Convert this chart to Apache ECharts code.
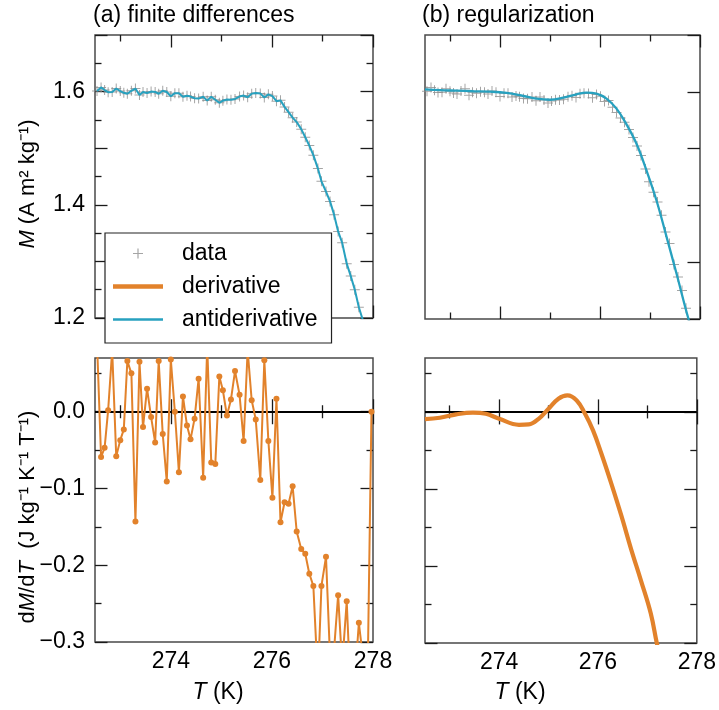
<!DOCTYPE html>
<html><head><meta charset="utf-8">
<script src="https://cdn.jsdelivr.net/npm/echarts@6/dist/echarts.min.js"></script>
<style>html,body{margin:0;padding:0;background:#fff}#c{width:719px;height:710px}</style>
</head><body><div id="c"></div>
<script>
// ---------- data ----------
const T = [272.54,272.62,272.69,272.76,272.84,272.92,273.00,273.07,273.14,273.22,273.30,273.38,273.45,273.53,273.61,
  273.69,273.76,273.84,273.92,274.00,274.08,274.16,274.24,274.32,274.39,274.47,274.55,274.64,274.72,274.80,274.88,274.96,
  275.03,275.11,275.19,275.27,275.36,275.44,275.52,275.60,275.68,275.77,275.85,275.93,276.01,276.09,276.17,276.25,276.33,
  276.41,276.49,276.58,276.66,276.74,276.82,276.91,276.98,277.07,277.15,277.23,277.31,277.39,277.48,277.56,277.64,277.72,
  277.80,277.89,277.97];
const M = [1.6010,1.6074,1.6027,1.5989,1.5991,1.6055,1.6009,1.5979,1.5961,1.6014,1.6054,1.5940,1.5992,1.5976,1.6000,
  1.5994,1.5962,1.6015,1.5992,1.5919,1.5973,1.5973,1.5910,1.5926,1.5912,1.5883,1.5876,1.5910,1.5841,1.5909,1.5856,1.5802,
  1.5839,1.5861,1.5857,1.5870,1.5912,1.5930,1.5900,1.5964,1.5976,1.5968,1.5897,1.5951,1.5921,1.5831,1.5845,1.5730,1.5636,
  1.5540,1.5462,1.5337,1.5194,1.5046,1.4877,1.4640,1.4415,1.4233,1.4060,1.3826,1.3530,1.3330,1.2960,1.2740,1.2500,1.2190,
  1.1960,1.1680,1.1400];
const dMdT_fd = [0.09,-0.059,-0.047,0.002,0.08,-0.058,-0.037,-0.023,0.066,0.050,-0.143,0.065,-0.020,0.030,-0.007,
  -0.040,0.066,-0.029,-0.091,0.068,0.000,-0.079,0.020,-0.018,-0.036,-0.009,0.043,-0.086,0.085,-0.066,-0.068,0.046,
  0.028,-0.005,0.016,0.053,0.022,-0.038,0.08,0.015,-0.010,-0.089,0.067,-0.038,-0.112,0.017,-0.144,-0.118,-0.120,
  -0.097,-0.156,-0.179,-0.185,-0.211,-0.227,-0.35,-0.227,-0.189,-0.32,-0.31,-0.239,-0.33,-0.247,-0.37,-0.35,-0.275,
  -0.32,-0.36,0.000];
const T_regM = [272.5,272.8,273.13,273.47,273.8,274.13,274.47,274.73,275.0,275.27,275.53,275.73,275.93,276.13,276.33,
  276.53,276.73,276.93,277.13,277.33,277.53,277.77,278.0];
const M_reg = [1.6044,1.6030,1.6020,1.6010,1.6003,1.5980,1.5926,1.5880,1.5860,1.5897,1.5956,1.5986,1.5968,1.5880,1.5704,
  1.5427,1.5086,1.4615,1.4086,1.3450,1.2800,1.2000,1.1350];
const T_regD = [272.5,272.8,273.13,273.47,273.73,274.0,274.4,274.6,274.8,275.0,275.2,275.38,275.57,275.73,275.9,276.07,
  276.27,276.47,276.67,276.87,277.07,277.19,277.4,277.7,278.0];
const dMdT_reg = [-0.0093,-0.0076,-0.0032,-0.0010,-0.0024,-0.0089,-0.0167,-0.0162,-0.0089,0.0041,0.0171,0.0214,0.0149,
  -0.0015,-0.0240,-0.0543,-0.0930,-0.1340,-0.1780,-0.2190,-0.2620,-0.3000,-0.3600,-0.4400,-0.5000];

const xMajor = [274, 276, 278];
const xMinor = [273, 275, 277];
const xLabels = [274, 276, 278];
const yTopMajor = [1.2, 1.3, 1.4, 1.5, 1.6, 1.7];
const yTopMinor = [1.25, 1.35, 1.45, 1.55, 1.65];
const yTopLabels = [1.2, 1.4, 1.6];
const yBotMajor = [-0.3, -0.2, -0.1, 0.0];
const yBotMinor = [-0.25, -0.15, -0.05, 0.05];
const yBotLabels = [-0.3, -0.2, -0.1, 0.0];

// ---------- styling / layout ----------
const FONT = "'Liberation Sans', Arial, Helvetica, sans-serif";
const FS = 23;
const ORANGE = '#E2822B';
const TEAL = '#27A1BF';
const GRAY = '#8f8f8f';
const xRange = [272.5, 278];
const yTopRange = [1.2, 1.7];
const yBotRange = [-0.3, 0.07];
const MAJ = 12.5, MIN = 6.5;

const grids = [
  {left: 95, top: 35, width: 278, height: 283},
  {left: 425, top: 35, width: 275, height: 284},
  {left: 95, top: 358, width: 278, height: 284},
  {left: 425, top: 358, width: 275, height: 285}
];

function fmtY(v) {
  if (Math.abs(v) < 1e-9) return '0.0';
  return (v < 0 ? '\u2212' : '') + Math.abs(v).toFixed(1);
}

function axis(dim, gi, pos, range, ticks, len, labels) {
  const a = {
    type: 'value', gridIndex: gi, position: pos, min: range[0], max: range[1],
    axisLine: {show: false}, splitLine: {show: false},
    axisTick: {show: ticks.length > 0, inside: true, length: len, customValues: ticks,
      lineStyle: {color: '#1a1a1a', width: 1.3}},
    axisLabel: {show: false}
  };
  if (labels) {
    a.axisLabel = {show: true, customValues: labels, fontSize: FS, fontFamily: FONT, color: '#000',
      margin: dim === 'x' ? 8 : 10,
      formatter: dim === 'x' ? (v => String(Math.round(v))) : fmtY};
  }
  return a;
}

const xAxes = [], yAxes = [];
grids.forEach((g, gi) => {
  const bottomRow = gi >= 2, leftCol = gi % 2 === 0;
  const yr = bottomRow ? yBotRange : yTopRange;
  const yMaj = bottomRow ? yBotMajor : yTopMajor;
  const yMin = bottomRow ? yBotMinor : yTopMinor;
  const yLab = bottomRow ? yBotLabels : yTopLabels;
  // the top-right panel shows only major ticks on its right edge
  const plainLeft = (gi === 1);
  xAxes.push(axis('x', gi, 'bottom', xRange, xMajor, MAJ, bottomRow ? xLabels : null));
  xAxes.push(axis('x', gi, 'bottom', xRange, xMinor, MIN, null));
  xAxes.push(axis('x', gi, 'top', xRange, xMajor, MAJ, null));
  xAxes.push(axis('x', gi, 'top', xRange, xMinor, MIN, null));
  yAxes.push(axis('y', gi, 'left', yr, plainLeft ? [] : yMaj, MAJ, leftCol ? yLab : null));
  yAxes.push(axis('y', gi, 'left', yr, plainLeft ? [] : yMin, MIN, null));
  yAxes.push(axis('y', gi, 'right', yr, yMaj, MAJ, null));
  yAxes.push(axis('y', gi, 'right', yr, plainLeft ? [] : yMin, MIN, null));
});

const zip = (a, b) => a.map((v, i) => [v, b[i]]);
const PLUS = 'path://M0,4.5L10,4.5L10,5.5L0,5.5ZM4.5,0L5.5,0L5.5,10L4.5,10Z';

const zeroLine = {silent: true, symbol: 'none', z: 1, label: {show: false},
  lineStyle: {color: '#000', width: 2, type: 'solid'}, data: [{yAxis: 0}]};

const series = [
  {name: 'data', type: 'scatter', xAxisIndex: 0, yAxisIndex: 0, data: zip(T, M),
   symbol: PLUS, symbolSize: 10, itemStyle: {color: GRAY}, z: 2},
  {name: 'antiderivative', type: 'line', xAxisIndex: 0, yAxisIndex: 0, data: zip(T, M),
   showSymbol: false, symbol: 'none', lineStyle: {color: TEAL, width: 2}, itemStyle: {color: TEAL}, z: 3},
  {name: 'data', type: 'scatter', xAxisIndex: 4, yAxisIndex: 4, data: zip(T, M),
   symbol: PLUS, symbolSize: 10, itemStyle: {color: GRAY}, z: 2},
  {name: 'antiderivative', type: 'line', xAxisIndex: 4, yAxisIndex: 4, data: zip(T_regM, M_reg), smooth: 0.4,
   showSymbol: false, symbol: 'none', lineStyle: {color: TEAL, width: 2.3}, itemStyle: {color: TEAL}, z: 3},
  {name: 'derivative', type: 'line', xAxisIndex: 8, yAxisIndex: 8, data: zip(T, dMdT_fd),
   symbol: 'circle', symbolSize: 6, showSymbol: true, lineStyle: {color: ORANGE, width: 2},
   itemStyle: {color: ORANGE}, z: 3, markLine: zeroLine},
  {name: 'derivative', type: 'line', xAxisIndex: 12, yAxisIndex: 12, data: zip(T_regD, dMdT_reg), smooth: 0.4,
   showSymbol: false, symbol: 'none', lineStyle: {color: ORANGE, width: 4.2}, itemStyle: {color: ORANGE}, z: 3,
   markLine: zeroLine}
];

const ICON_PLUS = 'path://M0,0L0,0M64,20L64,20M20,9.4L30,9.4L30,10.6L20,10.6ZM24.4,5L25.6,5L25.6,15L24.4,15Z';
const ICON_THICK = 'path://M0,0L0,0M64,20L64,20M0,7.75L50,7.75L50,12.25L0,12.25Z';
const ICON_THIN = 'path://M0,0L0,0M64,20L64,20M0,8.75L50,8.75L50,11.25L0,11.25Z';

const txt = (x, y, rich, text, rot, align) => ({
  type: 'text', x: x, y: y, rotation: rot || 0, silent: true,
  style: {text: text, rich: rich, fontSize: FS, fontFamily: FONT, fill: '#000',
    align: align || 'center', verticalAlign: 'middle'}
});
const RICH = {
  i: {fontSize: FS, fontFamily: FONT, fontStyle: 'italic', fill: '#000'},
  n: {fontSize: FS, fontFamily: FONT, fill: '#000'}
};
const RICH_Y = {
  i: {fontSize: 22, fontFamily: FONT, fontStyle: 'italic', fill: '#000'},
  n: {fontSize: 22, fontFamily: FONT, fill: '#000'}
};

const option = {
  animation: false,
  backgroundColor: '#fff',
  grid: grids.map(g => Object.assign({show: true, borderColor: '#4a4a4a', borderWidth: 1.5,
    backgroundColor: 'transparent', containLabel: false}, g)),
  xAxis: xAxes,
  yAxis: yAxes,
  legend: {
    orient: 'vertical', left: 105, top: 233, itemWidth: 64, itemHeight: 20, itemGap: 10,
    padding: [9, 14, 12, 8], backgroundColor: '#fff', borderColor: '#222', borderWidth: 1.2,
    selectedMode: false, itemStyle: {borderWidth: 0},
    textStyle: {fontSize: FS, fontFamily: FONT, color: '#000'},
    data: [{name: 'data', icon: ICON_PLUS}, {name: 'derivative', icon: ICON_THICK},
           {name: 'antiderivative', icon: ICON_THIN}]
  },
  graphic: [
    txt(93, 16, RICH, '{n|(a) finite differences}', 0, 'left'),
    txt(422, 16, RICH, '{n|(b) regularization}', 0, 'left'),
    txt(28, 184, RICH_Y, '{i|M}{n| (A m\u00B2 kg\u207B\u00B9)}', Math.PI / 2),
    txt(28, 517, RICH_Y, '{n|d}{i|M}{n|/d}{i|T}{n|  (J kg\u207B\u00B9 K\u207B\u00B9 T\u207B\u00B9)}', Math.PI / 2),
    txt(218, 693, RICH, '{i|T}{n| (K)}'),
    txt(520, 693, RICH, '{i|T}{n| (K)}')
  ],
  series: series
};

const chart = echarts.init(document.getElementById('c'), null, {renderer: 'canvas'});
chart.setOption(option);
</script>
</body></html>
